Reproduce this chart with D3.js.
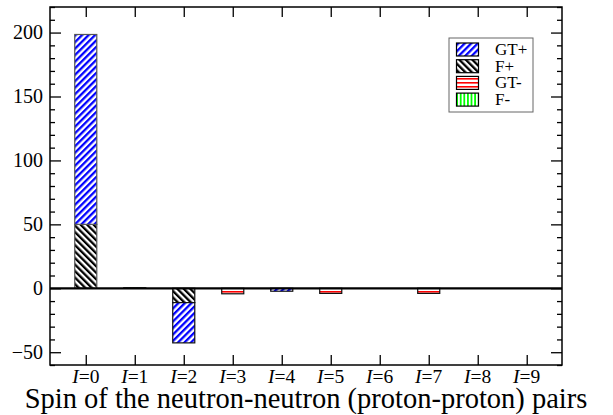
<!DOCTYPE html>
<html lang="en">
<head>
    <meta charset="UTF-8">
    <title>Spin pairs</title>
    <script src="https://cdn.jsdelivr.net/npm/d3@7"></script>
    <style>
        body { margin: 0; background: #fff; }
        text { font-family: "Liberation Serif", "Times New Roman", serif; fill: #000; }
    </style>
</head>
<body>
    <svg id="main" width="613" height="415" font-family="Liberation Serif"></svg>
    <script>
        // values
        const spins = [0, 1, 2, 3, 4, 5, 6, 7, 8, 9];
        const gtPlus = [148.5, 0, -31.5, 0, -2.3, 0, 0, 0, 0, 0];
        const fPlus = [50, 0, -11.2, 0, 0, 0, 0, 0, 0, 0];
        const gtMinus = [0, 0, 0, -4.3, 0, -4, 0, -4, 0, 0];
        const fMinus = [0, 0.4, 0, 0, 0, 0, 0, 0, 0, 0];
        const seriesNames = ['F+', 'GT+', 'GT-', 'F-'];
        const legendNames = ['GT+', 'F+', 'GT-', 'F-'];
        const yMajor = [-50, 0, 50, 100, 150, 200];

        const margin = { left: 50, top: 7, right: 51, bottom: 50 };
        const W = 613, H = 415;
        const pw = W - margin.left - margin.right;
        const ph = H - margin.top - margin.bottom;
        const serif = 'Liberation Serif, Times New Roman, serif';

        const svg = d3.select('#main');
        const defs = svg.append('defs');

        function stripes(id, color, angle, size, lw) {
            const p = defs.append('pattern')
                .attr('id', id)
                .attr('patternUnits', 'userSpaceOnUse')
                .attr('width', size).attr('height', size)
                .attr('patternTransform', 'rotate(' + angle + ')');
            p.append('rect').attr('width', size).attr('height', size).attr('fill', '#fff');
            p.append('rect').attr('width', lw).attr('height', size).attr('fill', color);
        }
        stripes('pGTp', '#0000ff', 45, 4.6, 2.3);
        stripes('pFp', '#000', -45, 4.6, 2.3);
        stripes('pGTm', '#ff0000', 90, 4, 1.6);
        stripes('pFm', '#00ff00', 0, 3.6, 1.8);
        const fills = { 'GT+': 'url(#pGTp)', 'F+': 'url(#pFp)', 'GT-': 'url(#pGTm)', 'F-': 'url(#pFm)' };

        const x = d3.scaleLinear().domain([-0.73, 9.72]).range([0, pw]);
        const y = d3.scaleLinear().domain([-60, 220]).range([ph, 0]);

        const g = svg.append('g').attr('transform', `translate(${margin.left},${margin.top})`);

        const table = spins.map((s, i) => ({
            spin: s, 'F+': fPlus[i], 'GT+': gtPlus[i], 'GT-': gtMinus[i], 'F-': fMinus[i]
        }));
        const stacked = d3.stack().keys(seriesNames).offset(d3.stackOffsetDiverging)(table);

        const bw = x(0.45) - x(0);
        stacked.forEach(layer => {
            g.selectAll(null)
                .data(layer.filter(d => d[1] - d[0] !== 0))
                .enter().append('rect')
                .attr('x', d => x(d.data.spin) - bw / 2)
                .attr('width', bw)
                .attr('y', d => y(Math.max(d[0], d[1])))
                .attr('height', d => Math.abs(y(d[0]) - y(d[1])))
                .attr('fill', fills[layer.key])
                .attr('stroke', d => d.data.spin === 0 ? '#555' : '#111')
                .attr('stroke-width', 1.2);
        });

        // zero line
        g.append('line')
            .attr('x1', 0).attr('x2', pw)
            .attr('y1', y(0)).attr('y2', y(0))
            .attr('stroke', '#000').attr('stroke-width', 2.2);

        // axes with inward ticks
        const yMinor = d3.range(-60, 221, 10).filter(v => !yMajor.includes(v));
        const leftAx = g.append('g')
            .call(d3.axisLeft(y).tickValues(yMajor).tickSize(-11).tickPadding(7));
        leftAx.attr('font-family', serif).attr('font-size', 20);
        const leftMinor = g.append('g').call(d3.axisLeft(y).tickValues(yMinor).tickSize(-5).tickFormat(''));
        const rightAx = g.append('g').attr('transform', `translate(${pw},0)`)
            .call(d3.axisRight(y).tickValues(yMajor).tickSize(-11).tickFormat(''));
        const rightMinor = g.append('g').attr('transform', `translate(${pw},0)`)
            .call(d3.axisRight(y).tickValues(yMinor).tickSize(-5).tickFormat(''));
        const bottomAx = g.append('g').attr('transform', `translate(0,${ph})`)
            .call(d3.axisBottom(x).tickValues(spins).tickSize(-10).tickFormat(''));
        const topAx = g.append('g')
            .call(d3.axisTop(x).tickValues(spins).tickSize(-10).tickFormat(''));

        [leftAx, leftMinor, rightAx, rightMinor, bottomAx, topAx].forEach(a => {
            a.select('.domain').remove();
            a.selectAll('line').attr('stroke', '#000').attr('stroke-width', 1.3);
        });

        // x tick labels
        const xl = g.append('g').attr('font-family', serif)
            .selectAll('text').data(spins).enter().append('text')
            .attr('x', d => x(d)).attr('y', ph + 18)
            .attr('text-anchor', 'middle').attr('font-size', 19.5);
        xl.append('tspan').attr('font-style', 'italic').text('I');
        xl.append('tspan').text(d => '=' + d);

        // frame
        g.append('rect').attr('width', pw).attr('height', ph)
            .attr('fill', 'none').attr('stroke', '#000').attr('stroke-width', 1.5);

        // x title
        svg.append('text')
            .attr('x', 306).attr('y', 408)
            .attr('text-anchor', 'middle').attr('font-size', 28.5)
            .attr('font-family', serif)
            .text('Spin of the neutron-neutron (proton-proton) pairs');

        // legend
        const lg = svg.append('g').attr('transform', 'translate(449,38)').attr('font-family', serif);
        lg.append('rect').attr('width', 84).attr('height', 74)
            .attr('fill', '#fff').attr('stroke', '#666').attr('stroke-width', 1);
        legendNames.forEach((n, i) => {
            lg.append('rect')
                .attr('x', 7.5).attr('y', 5 + i * 16.7)
                .attr('width', 22).attr('height', 13)
                .attr('fill', fills[n]).attr('stroke', '#000').attr('stroke-width', 1.2);
            lg.append('text')
                .attr('x', 46).attr('y', 17 + i * 16.7)
                .attr('font-size', 17).text(n);
        });
    </script>
</body>
</html>
